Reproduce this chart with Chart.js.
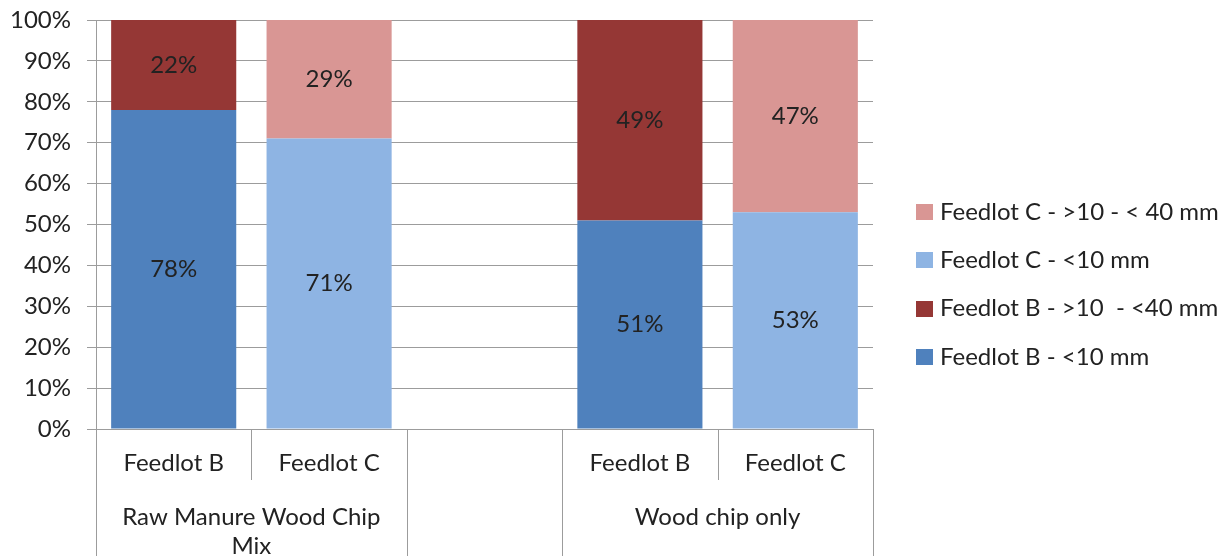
<!DOCTYPE html>
<html>
<head>
<meta charset="utf-8">
<script src="https://cdn.jsdelivr.net/npm/chart.js@4.4.1/dist/chart.umd.min.js"></script>
<style>
  html, body { margin: 0; padding: 0; background: #ffffff; }
  #wrap { width: 1225px; height: 556px; }
</style>
</head>
<body>
<div id="wrap"><canvas id="c" width="1225" height="556"></canvas></div>
<script>
// Category slots along the x axis (the middle slot is an empty spacer)
const categories = ['Feedlot B', 'Feedlot C', '', 'Feedlot B', 'Feedlot C'];
// Outer grouping row: label and the slot range it spans
const groupLabels = ['Raw Manure Wood Chip Mix', '', 'Wood chip only'];
const groupStarts = [0, 2, 3];
const groupEnds   = [1, 2, 4];

// Series (percent of total per bar)
const seriesNames = [
  'Feedlot B - <10 mm',
  'Feedlot B - >10  - <40 mm',
  'Feedlot C - <10 mm',
  'Feedlot C - >10 - < 40 mm'
];
const feedlotBFine   = [78, null, null, 51, null];
const feedlotBCoarse = [22, null, null, 49, null];
const feedlotCFine   = [null, 71, null, null, 53];
const feedlotCCoarse = [null, 29, null, null, 47];

// Y axis ticks
const yTicks = [0, 10, 20, 30, 40, 50, 60, 70, 80, 90, 100];

const colors = ['#4F81BD', '#953735', '#8EB4E3', '#D99694'];
const FONT = 'Lato, "Open Sans", sans-serif';
const FSIZE = 24;
const TEXT = '#222222';
const LINE = '#9c9c9c';

const seriesValues = [feedlotBFine, feedlotBCoarse, feedlotCFine, feedlotCCoarse];

const valueLabels = {
  id: 'valueLabels',
  afterDatasetsDraw(chart) {
    const ctx = chart.ctx;
    ctx.save();
    ctx.font = FSIZE + 'px ' + FONT;
    ctx.fillStyle = TEXT;
    ctx.textAlign = 'center';
    ctx.textBaseline = 'middle';
    chart.data.datasets.forEach((ds, di) => {
      const meta = chart.getDatasetMeta(di);
      meta.data.forEach((bar, i) => {
        const v = ds.data[i];
        if (v === null || v === undefined) return;
        ctx.fillText(v + '%', bar.x, (bar.y + bar.base) / 2);
      });
    });
    ctx.restore();
  }
};

const categoryTable = {
  id: 'categoryTable',
  afterDraw(chart) {
    const ctx = chart.ctx;
    const x = chart.scales.x;
    const area = chart.chartArea;
    const n = categories.length;
    const w = (area.right - area.left) / n;
    const bottom = chart.height;
    const rowSplit = area.bottom + 51;
    const groupEdges = new Set();
    groupStarts.forEach(s => groupEdges.add(s));
    groupEnds.forEach(e => groupEdges.add(e + 1));
    ctx.save();
    ctx.strokeStyle = LINE;
    ctx.lineWidth = 1;
    for (let k = 0; k <= n; k++) {
      const px = Math.round(area.left + k * w) + 0.5;
      ctx.beginPath();
      ctx.moveTo(px, area.bottom);
      ctx.lineTo(px, groupEdges.has(k) ? bottom : rowSplit);
      ctx.stroke();
    }
    // group labels, wrapped to the width of their span
    ctx.font = FSIZE + 'px ' + FONT;
    ctx.fillStyle = TEXT;
    ctx.textAlign = 'center';
    ctx.textBaseline = 'middle';
    groupLabels.forEach((label, g) => {
      if (!label) return;
      const x0 = x.getPixelForValue(groupStarts[g]) - w / 2;
      const x1 = x.getPixelForValue(groupEnds[g]) + w / 2;
      const maxW = x1 - x0 - 24;
      const words = label.split(' ');
      const lines = [];
      let cur = '';
      words.forEach(word => {
        const t = cur ? cur + ' ' + word : word;
        if (ctx.measureText(t).width > maxW && cur) { lines.push(cur); cur = word; }
        else cur = t;
      });
      if (cur) lines.push(cur);
      lines.forEach((ln, li) => ctx.fillText(ln, (x0 + x1) / 2, area.bottom + 88 + li * 29));
    });
    ctx.restore();
  }
};

const sideLegend = {
  id: 'sideLegend',
  afterDraw(chart) {
    const ctx = chart.ctx;
    const left = 916, firstY = 212, step = 48.3;
    ctx.save();
    ctx.font = FSIZE + 'px ' + FONT;
    ctx.textAlign = 'left';
    ctx.textBaseline = 'middle';
    const ds = chart.data.datasets.slice().reverse();
    ds.forEach((d, i) => {
      const cy = firstY + i * step;
      ctx.fillStyle = d.backgroundColor;
      ctx.fillRect(left, Math.round(cy - 8), 17, 16);
      ctx.fillStyle = TEXT;
      ctx.fillText(d.label, left + 24, cy);
    });
    ctx.restore();
  }
};

new Chart(document.getElementById('c'), {
  type: 'bar',
  data: {
    labels: categories,
    datasets: seriesNames.map((name, i) => ({
      label: name,
      data: seriesValues[i],
      backgroundColor: colors[i],
      borderWidth: 0,
      categoryPercentage: 1,
      barPercentage: 0.805
    }))
  },
  options: {
    responsive: false,
    animation: false,
    devicePixelRatio: 1,
    layout: { padding: { left: 0, right: 352, top: 20, bottom: 0 } },
    plugins: { legend: { display: false }, tooltip: { enabled: false } },
    scales: {
      x: {
        stacked: true,
        offset: true,
        grid: { display: false, drawTicks: false },
        border: { display: false },
        ticks: { color: TEXT, font: { family: FONT, size: FSIZE }, padding: 20, maxRotation: 0, autoSkip: false },
        afterFit(s) { s.height = 127; }
      },
      y: {
        stacked: true,
        min: 0,
        max: 100,
        afterBuildTicks(s) { s.ticks = yTicks.map(v => ({ value: v })); },
        grid: { color: LINE, tickLength: 9, drawTicks: true },
        border: { display: true, color: LINE },
        ticks: { color: TEXT, font: { family: FONT, size: FSIZE }, padding: 16, callback: v => v + '%' },
        afterFit(s) { s.width = 96; s.paddingTop = 0; s.paddingBottom = 0; }
      }
    }
  },
  plugins: [valueLabels, categoryTable, sideLegend]
});
</script>
</body>
</html>
